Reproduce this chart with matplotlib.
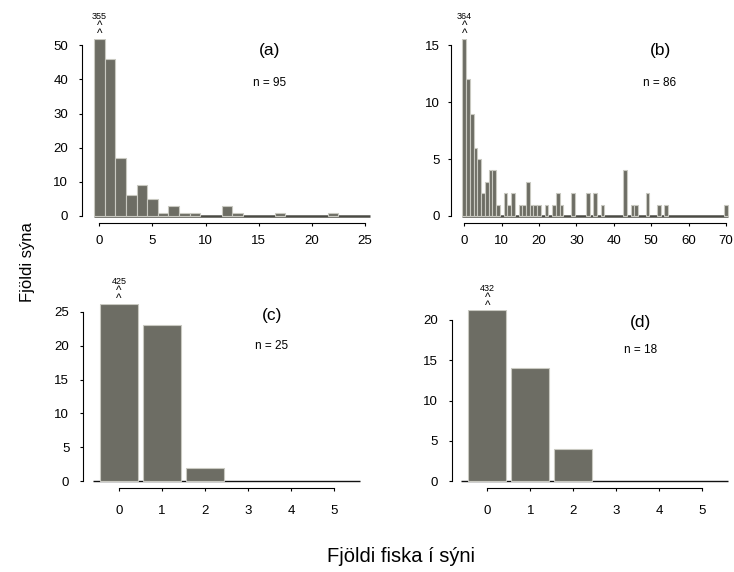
import matplotlib.pyplot as plt
import numpy as np

plt.rcParams["font.family"] = ["Liberation Sans", "DejaVu Sans"]

# panel (a) - histogram of counts (non-empty bins only)
a_values = [0, 1, 2, 3, 4, 5, 6, 7, 8, 9, 12, 13, 17, 22]
a_counts = [355, 46, 17, 6, 9, 5, 1, 3, 1, 1, 3, 1, 1, 1]
a_xticks = [0, 5, 10, 15, 20, 25]
a_yticks = [0, 10, 20, 30, 40, 50]

# panel (b)
b_values = [0, 1, 2, 3, 4, 5, 6, 7, 8, 9, 11, 12, 13, 15, 16, 17, 18, 19, 20,
            22, 24, 25, 26, 29, 33, 35, 37, 43, 45, 46, 49, 52, 54, 70]
b_counts = [364, 12, 9, 6, 5, 2, 3, 4, 4, 1, 2, 1, 2, 1, 1, 3, 1, 1, 1,
            1, 1, 2, 1, 2, 2, 2, 1, 4, 1, 1, 2, 1, 1, 1]
b_xticks = [0, 10, 20, 30, 40, 50, 60, 70]
b_yticks = [0, 5, 10, 15]

# panel (c)
c_values = [0, 1, 2]
c_counts = [425, 23, 2]
c_xticks = [0, 1, 2, 3, 4, 5]
c_yticks = [0, 5, 10, 15, 20, 25]

# panel (d)
d_values = [0, 1, 2]
d_counts = [432, 14, 4]
d_xticks = [0, 1, 2, 3, 4, 5]
d_yticks = [0, 5, 10, 15, 20]

labels = ["(a)", "(b)", "(c)", "(d)"]
n_text = ["n = 95", "n = 86", "n = 25", "n = 18"]

bar_color = "#6d6d64"
edge_color = "#c9c9c1"

fig = plt.figure(figsize=(7.34, 5.72), dpi=100)
W, H = 734.0, 572.0


def add_panel(px_left, px_right, px_top, px_bottom):
    return fig.add_axes([px_left / W, 1 - px_bottom / H,
                         (px_right - px_left) / W, (px_bottom - px_top) / H])


panels = [
    # axes box in pixels, xlim, ylim, bar width, label pos, tick pads
    dict(box=(81.7, 381.4, 38.5, 222.8), xlim=(-1.66, 26.54), ylim=(-2, 52),
         values=a_values, counts=a_counts, xticks=a_xticks, yticks=a_yticks,
         width=1.0, lab=(0.628, 0.937, 0.760), zl=0.5, zlw=1.8, zc="#4a4a44", xpad=6.5, ypad=7.5),
    dict(box=(451.5, 738.5, 38.5, 222.8), xlim=(-3.42, 73.34), ylim=(-0.6, 15.6),
         values=b_values, counts=b_counts, xticks=b_xticks, yticks=b_yticks,
         width=1.0, lab=(0.7265, 0.937, 0.760), zl=0.5, zlw=1.8, zc="#4a4a44", xpad=6.5, ypad=6),
    dict(box=(82.9, 370.1, 303.6, 488.1), xlim=(-0.84, 5.84), ylim=(-1, 26.2),
         values=c_values, counts=c_counts, xticks=c_xticks, yticks=c_yticks,
         width=0.88, lab=(0.658, 0.938, 0.772), zl=0.6, zlw=1.0, zc="#111111", xpad=10, ypad=7.5),
    dict(box=(451.6, 738.0, 310.4, 487.8), xlim=(-0.83, 5.83), ylim=(-0.8, 21.15),
         values=d_values, counts=d_counts, xticks=d_xticks, yticks=d_yticks,
         width=0.88, lab=(0.661, 0.931, 0.777), zl=0.6, zlw=1.0, zc="#111111", xpad=10, ypad=7.5),
]

for i, p in enumerate(panels):
    ax = add_panel(*p["box"])
    ax.set_xlim(*p["xlim"])
    ax.set_ylim(*p["ylim"])
    ytop = p["ylim"][1]

    counts = np.array(p["counts"], dtype=float)
    shown = np.minimum(counts, ytop)
    ax.hlines(0, p["xticks"][0] - p["zl"], p["xticks"][-1] + p["zl"],
              color=p["zc"], lw=p["zlw"], zorder=1)
    ax.bar(p["values"], shown, width=p["width"], color=bar_color,
           edgecolor=edge_color, linewidth=0.8, zorder=2, clip_on=True)

    # the first bar is off scale: real count written above it
    x0 = p["values"][0]
    ax.annotate(str(p["counts"][0]), xy=(x0, ytop), xytext=(0, 16),
                textcoords="offset points", ha="center", va="center",
                fontsize=6.5, annotation_clip=False)
    ax.annotate("^\n^", xy=(x0, ytop), xytext=(0, -1.0),
                textcoords="offset points", ha="center", va="bottom",
                fontsize=8.5, linespacing=0.5, annotation_clip=False)

    lx, ly, ny = p["lab"]
    ax.text(lx, ly, labels[i], transform=ax.transAxes, ha="center",
            va="center", fontsize=12.5)
    ax.text(lx, ny, n_text[i], transform=ax.transAxes, ha="center",
            va="center", fontsize=8.5)

    for s in ["top", "right"]:
        ax.spines[s].set_visible(False)
    ax.spines["left"].set_bounds(p["yticks"][0], p["yticks"][-1])
    ax.spines["bottom"].set_bounds(p["xticks"][0], p["xticks"][-1])
    ax.spines["left"].set_linewidth(0.8)
    ax.spines["bottom"].set_linewidth(0.8)
    ax.set_xticks(p["xticks"])
    ax.set_yticks(p["yticks"])
    ax.tick_params(axis="x", length=2.3, width=0.8, pad=p["xpad"], labelsize=9.5)
    ax.tick_params(axis="y", length=2.3, width=0.8, pad=p["ypad"], labelsize=9.5)
    ax.patch.set_alpha(0)

fig.text(32 / W, 1 - 262.5 / H, "Fjöldi sýna", rotation=90,
         rotation_mode="anchor", ha="center", va="baseline", fontsize=12)
fig.text(401 / W, 1 - 562 / H, "Fjöldi fiska í sýni", ha="center",
         va="baseline", fontsize=14.5)

fig.savefig("out.png", dpi=100)
